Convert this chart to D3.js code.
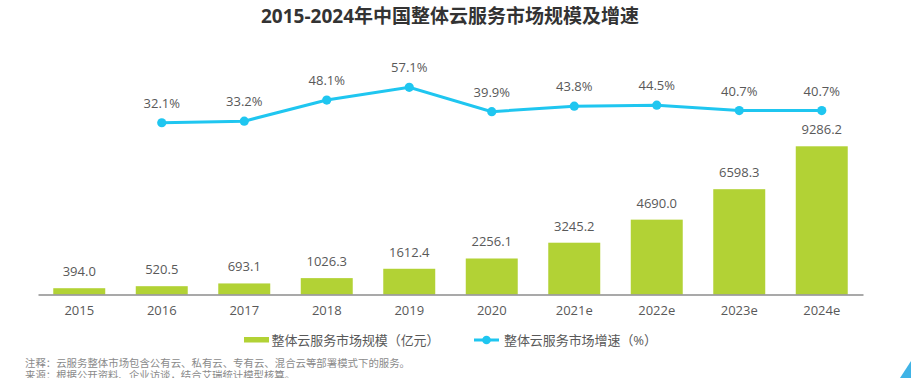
<!DOCTYPE html>
<html><head><meta charset="utf-8">
<script src="https://cdn.jsdelivr.net/npm/d3@7/dist/d3.min.js"></script>
<style>
body{margin:0;background:#fff;}
svg{display:block;}
text{font-family:"Open Sans","Noto Sans CJK SC",sans-serif;}
</style></head>
<body>
<svg id="c" width="911" height="378"></svg>
<script>
const categories = ["2015","2016","2017","2018","2019","2020","2021e","2022e","2023e","2024e"];
const marketSize = [394.0,520.5,693.1,1026.3,1612.4,2256.1,3245.2,4690.0,6598.3,9286.2];
const growthRate = [null,32.1,33.2,48.1,57.1,39.9,43.8,44.5,40.7,40.7];
const titleText = "2015-2024年中国整体云服务市场规模及增速";
const legendBar = "整体云服务市场规模（亿元）";
const legendLine = "整体云服务市场增速（%）";
const note1 = "注释：云服务整体市场包含公有云、私有云、专有云、混合云等部署模式下的服务。";
const note2 = "来源：根据公开资料、企业访谈，结合艾瑞统计模型核算。";

const svg = d3.select("#c");
const barColor = "#b2d235", lineColor = "#1fc6f0", txt = "#595959";

svg.append("text").attr("x",450).attr("y",23).attr("text-anchor","middle")
  .attr("font-size",19).attr("font-weight","bold").attr("fill","#333")
  .attr("font-family","'Noto Sans CJK SC','Open Sans',sans-serif").text(titleText);

const x = d3.scaleBand().domain(categories).range([38,863]).paddingInner(0.37).paddingOuter(0.185);
const y = d3.scaleLinear().domain([0,10000]).range([294.5,134.9]);
const y2 = d3.scaleLinear().domain([0,60]).range([168.2,83.2]);

svg.append("g").selectAll("rect").data(categories).join("rect")
  .attr("x",d=>x(d)).attr("width",x.bandwidth())
  .attr("y",(d,i)=>y(marketSize[i])).attr("height",(d,i)=>y(0)-y(marketSize[i]))
  .attr("fill",barColor);

svg.append("g").selectAll("text").data(categories).join("text")
  .attr("x",d=>x(d)+x.bandwidth()/2).attr("y",(d,i)=>y(marketSize[i])-12)
  .attr("text-anchor","middle").attr("font-size",13).attr("fill",txt)
  .text((d,i)=>marketSize[i].toFixed(1));

const xAxis = svg.append("g").attr("transform","translate(0,294.5)")
  .call(d3.axisBottom(x).tickSize(0).tickPadding(11));
xAxis.select(".domain").attr("stroke","#8c8c8c").attr("stroke-width",1.5);
xAxis.selectAll("text").attr("font-size",13).attr("fill",txt)
  .attr("font-family","'Open Sans',sans-serif");

const pts = categories.map((c,i)=>({c,v:growthRate[i]})).filter(d=>d.v!=null);
const line = d3.line().x(d=>x(d.c)+x.bandwidth()/2).y(d=>y2(d.v));
svg.append("path").datum(pts).attr("d",line).attr("fill","none")
  .attr("stroke",lineColor).attr("stroke-width",3);
svg.append("g").selectAll("circle").data(pts).join("circle")
  .attr("cx",d=>x(d.c)+x.bandwidth()/2).attr("cy",d=>y2(d.v)).attr("r",4.6).attr("fill",lineColor);
svg.append("g").selectAll("text").data(pts).join("text")
  .attr("x",d=>x(d.c)+x.bandwidth()/2).attr("y",d=>y2(d.v)-15)
  .attr("text-anchor","middle").attr("font-size",13).attr("fill",txt)
  .text(d=>d.v.toFixed(1)+"%");

// legend
const lg = svg.append("g");
lg.append("rect").attr("x",244).attr("y",337).attr("width",25).attr("height",5.5).attr("fill",barColor);
lg.append("text").attr("x",271.5).attr("y",345).attr("font-size",13).attr("fill",txt)
  .attr("textLength",168).attr("lengthAdjust","spacing")
  .attr("font-family","'Noto Sans CJK SC',sans-serif").text(legendBar);
lg.append("line").attr("x1",474).attr("x2",499).attr("y1",340).attr("y2",340)
  .attr("stroke",lineColor).attr("stroke-width",3);
lg.append("circle").attr("cx",486.5).attr("cy",340).attr("r",4.3).attr("fill",lineColor);
lg.append("text").attr("x",504).attr("y",345).attr("font-size",13).attr("fill",txt)
  .attr("textLength",153).attr("lengthAdjust","spacing")
  .attr("font-family","'Noto Sans CJK SC',sans-serif").text(legendLine);

svg.append("text").attr("x",25).attr("y",366.5).attr("font-size",10.4).attr("fill","#8a8a8a")
  .attr("textLength",385).attr("lengthAdjust","spacing")
  .attr("font-family","'Noto Sans CJK SC',sans-serif").text(note1);
svg.append("text").attr("x",25).attr("y",379).attr("font-size",10.4).attr("fill","#8a8a8a")
  .attr("font-family","'Noto Sans CJK SC',sans-serif").text(note2);

svg.append("polygon").attr("points","900,378 911,361 911,378").attr("fill","#3fb3e6");
</script>
</body></html>
